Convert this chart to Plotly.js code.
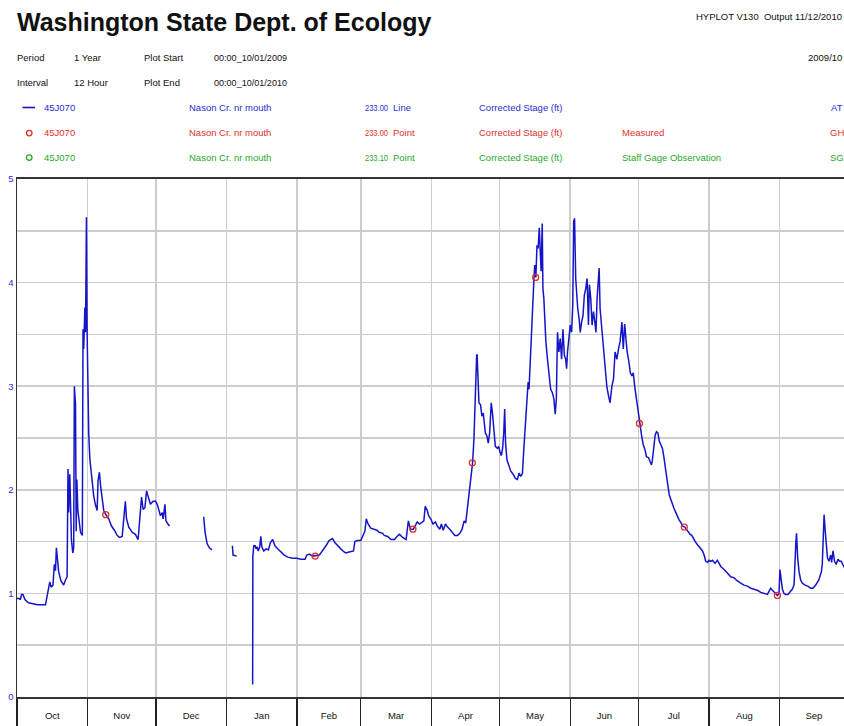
<!DOCTYPE html>
<html>
<head>
<meta charset="utf-8">
<script src="https://cdn.plot.ly/plotly-3.0.1.min.js"></script>
<style>
  html, body { margin: 0; padding: 0; background: #fff; overflow: hidden; }
  #chart { width: 848px; height: 726px; }
</style>
</head>
<body>
<div id="chart"></div>
<script>
// Nason Cr. nr mouth (45J070), corrected stage in ft, water year 2010.
// Each pair is [days since 00:00 10/01/2009, stage ft]; segments are separated by data gaps.
const stageOctNov = [
  [0,0.95],[1,0.95],[1.5,0.94],[2,0.99],[2.6,0.99],[3.5,0.94],[5,0.91],[6.5,0.90],[9,0.89],[12.5,0.89],
  [13,0.94],[13.9,1.03],[14.4,1.11],[15,1.06],[15.8,1.08],[16.4,1.28],[16.9,1.22],[17.3,1.44],[17.9,1.33],
  [18.3,1.21],[19.3,1.12],[20.5,1.08],[21.3,1.13],[22,1.16],[22.4,2.20],[22.7,1.78],[23.2,2.15],[23.5,1.76],
  [23.9,1.52],[24.5,1.39],[24.9,1.44],[25.2,3.00],[25.7,2.82],[26,1.60],[26.3,2.10],[26.7,1.81],[27.3,1.69],
  [27.9,1.59],[28.7,1.56],[29,3.55],[29.3,3.36],[29.8,3.76],[30.1,3.52],[30.5,4.63],[30.8,3.52],[31.1,2.94],
  [31.5,2.54],[32,2.30],[32.5,2.17],[33.1,2.07],[33.7,1.94],[34.5,1.85],[35.2,1.80],[35.6,2.09],[36.2,2.17],
  [36.7,2.04],[37.4,1.91],[38.1,1.80],[39,1.76],[40.3,1.72],[41.5,1.65],[42.8,1.61],[44,1.56],[45,1.54],
  [46.2,1.55],[46.9,1.73],[47.6,1.89],[48.1,1.72],[49.1,1.64],[50.6,1.59],[52,1.57],[53.2,1.52],[54,1.75],
  [54.7,1.93],[55.4,1.81],[56.2,1.83],[56.9,1.99],[57.9,1.91],[58.6,1.86],[59.8,1.89],[60.8,1.89],[61.6,1.86],
  [62.3,1.81],[63,1.75],[63.8,1.78],[64.2,1.72],[65,1.86],[65.4,1.70],[66.3,1.67],[67,1.65]
];
const stageDec = [[82.0,1.74],[82.6,1.59],[83.5,1.48],[84.5,1.44],[85.6,1.42]];
const stageEarlyJan = [[94.6,1.46],[94.9,1.37],[96.5,1.36]];
const stageJanSep = [
  [103.5,0.12],[103.6,1.36],[104.0,1.46],[104.6,1.46],[105.0,1.43],[105.4,1.45],[106.0,1.41],[106.6,1.45],
  [107.1,1.55],[107.5,1.45],[108.4,1.41],[109.4,1.43],[110.4,1.42],[111.3,1.49],[112.3,1.52],[113.3,1.46],
  [114.5,1.43],[116.0,1.40],[117.4,1.37],[118.9,1.35],[121.1,1.34],[123.0,1.34],[124.7,1.33],[126.5,1.33],
  [127.3,1.37],[128.4,1.38],[129.9,1.36],[132.8,1.37],[134.2,1.41],[135.7,1.46],[137.1,1.51],[138.6,1.53],
  [139.6,1.49],[140.8,1.46],[142.2,1.43],[143.7,1.40],[144.4,1.39],[145.9,1.40],[147.8,1.41],[148.4,1.50],
  [149.5,1.51],[151.0,1.51],[152.2,1.56],[152.8,1.60],[153.4,1.72],[154.2,1.67],[155.4,1.63],[156.9,1.62],
  [158.1,1.61],[159.1,1.59],[160.6,1.58],[161.3,1.56],[162.8,1.55],[164.3,1.52],[165.8,1.52],[166.9,1.55],
  [168.0,1.57],[169.4,1.54],[170.9,1.52],[171.9,1.70],[172.8,1.62],[174.1,1.62],[175.8,1.69],[176.8,1.67],
  [177.8,1.69],[178.7,1.70],[179.3,1.84],[180.2,1.80],[180.8,1.75],[181.7,1.72],[182.7,1.67],[183.8,1.69],
  [184.6,1.65],[185.7,1.62],[186.4,1.67],[187.2,1.61],[188.2,1.67],[189.1,1.64],[190.1,1.62],[191.1,1.59],
  [192.3,1.56],[193.5,1.56],[194.5,1.58],[195.5,1.62],[196.4,1.70],[197.1,1.68],[197.9,1.83],[198.4,1.91],
  [199.2,2.07],[200.1,2.26],[200.7,2.49],[201.0,2.75],[201.4,2.96],[201.9,3.30],[202.1,3.30],[202.4,3.04],
  [202.9,2.84],[203.6,2.82],[204.2,2.71],[204.8,2.74],[205.7,2.55],[206.4,2.52],[207.0,2.45],[207.6,2.55],
  [208.3,2.84],[208.8,2.75],[209.4,2.55],[210.1,2.42],[211.0,2.40],[211.6,2.42],[212.1,2.37],[212.7,2.33],
  [213.3,2.40],[213.8,2.55],[214.2,2.78],[214.6,2.45],[215.2,2.29],[216.1,2.23],[216.9,2.18],[217.9,2.15],
  [218.9,2.11],[219.8,2.10],[220.5,2.16],[221.3,2.13],[222.0,2.16],[222.6,2.39],[223.3,2.62],[223.9,2.81],
  [224.5,3.04],[224.9,2.97],[225.7,3.43],[226.0,3.52],[226.4,3.85],[227.0,4.01],[227.4,4.17],[227.9,4.05],
  [228.4,4.36],[228.9,4.33],[229.4,4.53],[229.8,4.36],[230.2,4.11],[230.7,4.57],[231.0,3.94],[231.4,3.85],
  [231.9,3.55],[232.3,3.43],[233.0,3.26],[233.6,3.10],[234.4,2.97],[235.1,2.94],[235.8,2.88],[236.4,2.73],
  [236.9,2.88],[237.4,3.52],[238.0,3.33],[238.6,3.46],[239.2,3.26],[239.8,3.55],[240.4,3.30],[241.0,3.26],
  [241.4,3.17],[241.8,3.33],[242.4,3.46],[243.0,3.59],[243.6,3.52],[244.1,3.78],[244.5,4.59],[244.9,4.62],
  [245.4,4.04],[245.8,3.85],[246.3,3.75],[246.9,3.65],[247.4,3.52],[248.0,3.62],[248.6,3.68],[249.2,3.88],
  [249.8,3.94],[250.4,4.04],[251.0,3.59],[251.4,3.98],[252.0,3.85],[252.6,3.59],[253.2,3.72],[253.8,3.62],
  [254.3,3.52],[254.8,3.85],[255.2,4.01],[255.7,4.14],[256.1,3.75],[256.7,3.59],[257.3,3.43],[257.9,3.30],
  [258.5,3.13],[259.1,2.99],[259.8,2.91],[260.5,2.84],[261.3,3.00],[262.0,3.07],[262.7,3.33],[263.5,3.26],
  [264.2,3.36],[264.9,3.43],[265.7,3.62],[266.3,3.36],[266.9,3.60],[267.4,3.46],[268.0,3.33],[268.6,3.26],
  [269.4,3.13],[270.1,3.10],[270.7,3.13],[271.3,3.00],[272.0,2.88],[272.6,2.80],[273.0,2.73],[273.6,2.64],
  [274.3,2.53],[275.0,2.44],[275.8,2.39],[276.5,2.32],[277.4,2.31],[278.1,2.27],[278.7,2.24],[279.1,2.29],
  [279.7,2.44],[280.3,2.53],[280.9,2.56],[281.5,2.55],[282.1,2.47],[282.8,2.44],[283.5,2.40],[284.1,2.32],
  [284.7,2.24],[285.3,2.15],[285.9,2.04],[286.5,1.95],[287.2,1.90],[287.9,1.87],[288.6,1.82],[289.4,1.78],
  [290.1,1.74],[290.8,1.71],[291.7,1.68],[292.3,1.65],[293.3,1.64],[294.2,1.61],[294.9,1.59],[295.7,1.57],
  [296.4,1.56],[297.1,1.53],[297.9,1.50],[298.9,1.47],[299.9,1.44],[301.1,1.41],[301.8,1.37],[302.5,1.31],
  [303.3,1.30],[304.0,1.32],[304.7,1.31],[305.5,1.32],[306.6,1.29],[307.6,1.32],[308.4,1.29],[309.1,1.26],
  [310.6,1.23],[312.0,1.20],[313.5,1.16],[315.0,1.15],[316.4,1.12],[317.9,1.10],[319.3,1.08],[320.8,1.07],
  [322.3,1.05],[323.7,1.04],[325.2,1.03],[326.7,1.01],[328.1,1.00],[329.6,0.99],[330.3,1.02],[331.0,1.05],
  [331.8,1.03],[332.5,1.01],[333.2,1.00],[334.0,0.98],[334.7,1.00],[335.1,1.23],[335.6,1.15],[336.2,1.04],
  [336.9,1.00],[337.6,0.99],[338.6,0.99],[339.5,1.01],[340.5,1.04],[341.3,1.08],[341.7,1.34],[342.1,1.49],
  [342.4,1.58],[342.9,1.34],[343.5,1.21],[344.2,1.13],[344.9,1.10],[346.1,1.08],[347.3,1.07],[348.6,1.05],
  [349.6,1.05],[350.8,1.08],[352.2,1.13],[353.3,1.21],[353.7,1.28],[354.1,1.50],[354.5,1.76],[355.0,1.60],
  [355.4,1.47],[356.0,1.34],[356.6,1.31],[357.4,1.37],[357.8,1.30],[358.4,1.41],[359.1,1.31],[359.8,1.28],
  [360.6,1.33],[361.3,1.31],[362.0,1.31],[362.8,1.28],[363.6,1.24],[364.5,1.23]
];
// Measured gage heights (GH)
const measured = [[39.0,1.76],[131.0,1.36],[173.9,1.62],[200.0,2.26],[227.8,4.05],[273.4,2.64],[293.1,1.64],[334.0,0.98]];
// Staff gage observations (SG) - none in this period
const staffGage = [];

const yTicks = [0, 1, 2, 3, 4, 5];

const DAY_MS = 86400000;
const START = Date.UTC(2009, 9, 1);
const END = Date.UTC(2010, 9, 1);
const toTime = d => START + d * DAY_MS;

// Join the stage segments, breaking the line at each gap
const segments = [stageOctNov, stageDec, stageEarlyJan, stageJanSep];
const lineX = [], lineY = [];
segments.forEach((seg, i) => {
  if (i > 0) { lineX.push(toTime((segments[i-1][segments[i-1].length-1][0] + seg[0][0]) / 2)); lineY.push(null); }
  seg.forEach(p => { lineX.push(toTime(p[0])); lineY.push(p[1]); });
});

const BLUE = '#1515c8';
const TXT_BLUE = '#2b2bd2';
const TXT_RED = '#e0302a';
const TXT_GREEN = '#2aa82a';
const FONT = '"Liberation Sans", Arial, sans-serif';

const W = 848, H = 726;
const M = { l: 17, r: 0, t: 179, b: 29, pad: 0 };
const PW = W - M.l - M.r, PH = H - M.t - M.b;
const px = x => (x - M.l) / PW;
const py = y => (H - M.b - y) / PH;

function note(text, x, y, color, opts) {
  return Object.assign({
    xref: 'paper', yref: 'paper', x: px(x), y: py(y),
    xanchor: 'left', yanchor: 'middle', align: 'left', showarrow: false,
    text: text, borderpad: 0,
    font: { family: FONT, size: 9.5, color: color || '#111' }
  }, opts || {});
}

const annotations = [
  note('<b>Washington State Dept. of Ecology</b>', 16, 22, '#111', { font: { family: FONT, size: 25, color: '#111' } }),
  note('HYPLOT V130  Output 11/12/2010', 843, 17, '#111', { xanchor: 'right', align: 'right' }),
  note('Period', 16, 57), note('1 Year', 73, 57), note('Plot Start', 143, 57), note('00:00_10/01/2009', 213, 57),
  note('2009/10', 843, 57, '#111', { xanchor: 'right', align: 'right' }),
  note('Interval', 16, 82), note('12 Hour', 73, 82), note('Plot End', 143, 82), note('00:00_10/01/2010', 213, 82),

  note('45J070', 43, 107.5, TXT_BLUE), note('Nason Cr. nr mouth', 188, 107.5, TXT_BLUE),
  note('233.00', 364, 107.5, TXT_BLUE), note('Line', 392, 107.5, TXT_BLUE),
  note('Corrected Stage (ft)', 478, 107.5, TXT_BLUE), note('AT', 830, 107.5, TXT_BLUE),

  note('45J070', 43, 133, TXT_RED), note('Nason Cr. nr mouth', 188, 133, TXT_RED),
  note('233.00', 364, 133, TXT_RED), note('Point', 392, 133, TXT_RED),
  note('Corrected Stage (ft)', 478, 133, TXT_RED), note('Measured', 621, 133, TXT_RED), note('GH', 829, 133, TXT_RED),

  note('45J070', 43, 157.5, TXT_GREEN), note('Nason Cr. nr mouth', 188, 157.5, TXT_GREEN),
  note('233.10', 364, 157.5, TXT_GREEN), note('Point', 392, 157.5, TXT_GREEN),
  note('Corrected Stage (ft)', 478, 157.5, TXT_GREEN), note('Staff Gage Observation', 621, 157.5, TXT_GREEN), note('SG', 829, 157.5, TXT_GREEN)
];

// Legend symbols drawn beside each legend row
const shapes = [
  { type: 'line', xref: 'paper', yref: 'paper', x0: px(22.5), x1: px(35), y0: py(107.5), y1: py(107.5),
    line: { color: BLUE, width: 1.6 } },
  { type: 'circle', xref: 'paper', yref: 'paper', x0: px(26.5), x1: px(32), y0: py(130.3), y1: py(135.8),
    line: { color: TXT_RED, width: 1.3 } },
  { type: 'circle', xref: 'paper', yref: 'paper', x0: px(26.5), x1: px(32), y0: py(154.8), y1: py(160.3),
    line: { color: TXT_GREEN, width: 1.3 } }
];

const traces = [
  { x: lineX, y: lineY, type: 'scatter', mode: 'lines', connectgaps: false,
    line: { color: BLUE, width: 1.5 }, hoverinfo: 'x+y', name: 'Corrected Stage (ft)' },
  { x: measured.map(p => toTime(p[0])), y: measured.map(p => p[1]), type: 'scatter', mode: 'markers',
    marker: { symbol: 'circle-open', size: 6, color: TXT_RED, line: { width: 1.3, color: TXT_RED } }, name: 'Measured' },
  { x: staffGage.map(p => toTime(p[0])), y: staffGage.map(p => p[1]), type: 'scatter', mode: 'markers',
    marker: { symbol: 'circle-open', size: 6, color: TXT_GREEN }, name: 'Staff Gage Observation' }
];

const layout = {
  width: W, height: H, margin: M,
  paper_bgcolor: '#fff', plot_bgcolor: '#fff',
  showlegend: false,
  font: { family: FONT, size: 9.5, color: '#111' },
  xaxis: {
    type: 'date', range: [START, END],
    tick0: START, dtick: 'M1', tickformat: '%b', ticklabelmode: 'period',
    ticks: 'outside', ticklen: 30, tickwidth: 1.3, tickcolor: '#222',
    ticklabelstandoff: -21,
    tickfont: { family: FONT, size: 9.5, color: '#111' },
    showgrid: true, gridcolor: '#cdcdcd', gridwidth: 1.5,
    showline: true, linecolor: '#333', linewidth: 2, mirror: true,
    zeroline: false, fixedrange: true
  },
  yaxis: {
    range: [0, 5], tickvals: yTicks, ticktext: yTicks.map(String),
    ticks: '', tickfont: { family: FONT, size: 9.5, color: TXT_BLUE },
    showgrid: true, gridcolor: '#cdcdcd', gridwidth: 1.5,
    minor: { dtick: 0.5, tick0: 0, showgrid: true, gridcolor: '#cdcdcd', gridwidth: 1.5, ticks: '' },
    showline: true, linecolor: '#333', linewidth: 1.5, mirror: true,
    zeroline: false, fixedrange: true
  },
  annotations: annotations,
  shapes: shapes
};

// The header's numeric fields are set in a narrower run than the labels
const narrowFields = { '233.00': 23, '233.10': 23, '00:00_10/01/2009': 73, '00:00_10/01/2010': 73 };

Plotly.newPlot('chart', traces, layout, { displayModeBar: false, staticPlot: true }).then(gd => {
  gd.querySelectorAll('.annotation-text').forEach(t => {
    const len = narrowFields[t.textContent];
    if (len) {
      t.setAttribute('textLength', len);
      t.setAttribute('lengthAdjust', 'spacingAndGlyphs');
    }
  });
});
</script>
</body>
</html>
